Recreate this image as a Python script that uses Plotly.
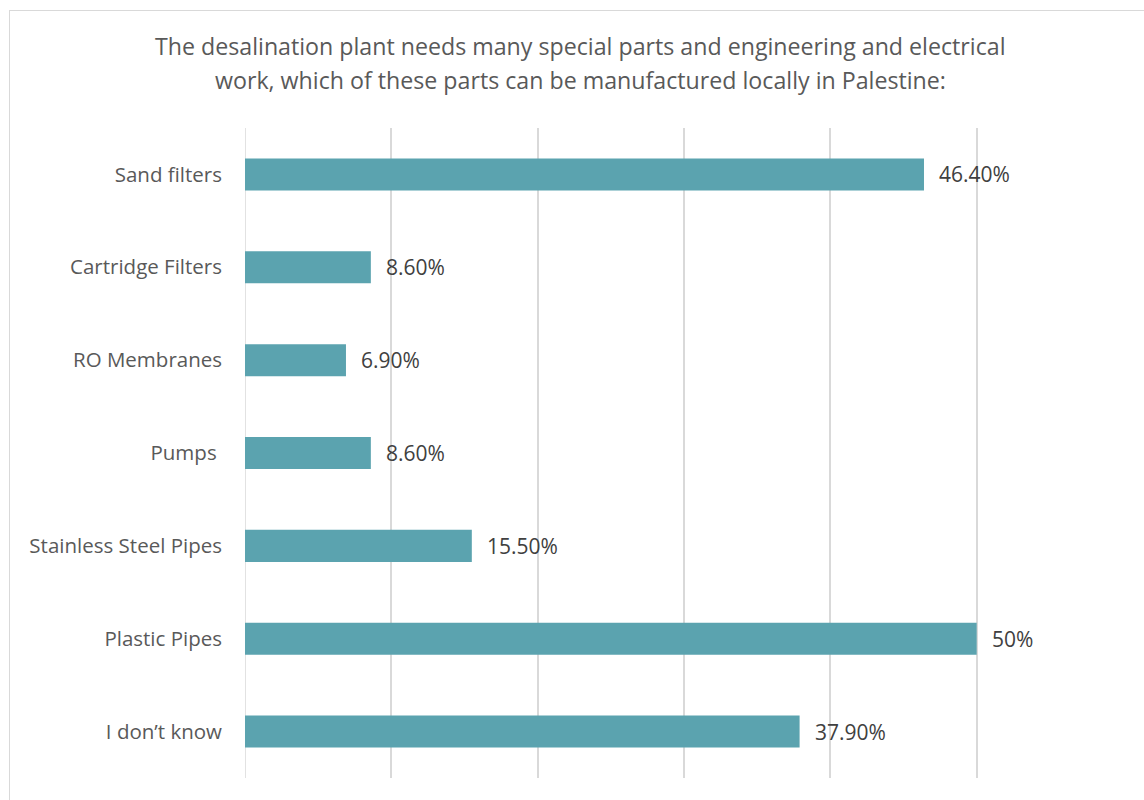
import plotly.graph_objects as go

categories = ["Sand filters", "Cartridge Filters", "RO Membranes", "Pumps\u00a0",
              "Stainless Steel Pipes", "Plastic Pipes", "I don\u2019t know"]
values = [46.4, 8.6, 6.9, 8.6, 15.5, 50, 37.9]
value_labels = ["46.40%", "8.60%", "6.90%", "8.60%", "15.50%", "50%", "37.90%"]
x_ticks = [0, 10, 20, 30, 40, 50, 60]
title_lines = ["The desalination plant needs many special parts and engineering and electrical",
               "work, which of these parts can be manufactured locally in Palestine:"]

W, H = 1144, 800
L, R, T, B = 245, 21, 128, 22
pw = W - L - R
ph = H - T - B

fig = go.Figure(go.Bar(
    x=values, y=categories, orientation="h",
    marker=dict(color="#5BA3AF", line=dict(width=0)),
    width=0.345, hoverinfo="skip",
))

for c, v, t in zip(categories, values, value_labels):
    fig.add_annotation(x=v, y=c, text=t, showarrow=False, xanchor="left",
                       xshift=13, font=dict(family="Open Sans", size=21, color="#404040"))

# title as two centred lines
for ypix, line in zip([46, 80], title_lines):
    fig.add_annotation(xref="paper", yref="paper", x=(580 - L) / pw, y=1 + (T - ypix) / ph,
                       text=line, showarrow=False, xanchor="center", yanchor="middle",
                       font=dict(family="Open Sans", size=23.2, color="#595959"))

# chart border (left and top visible)
fig.add_shape(type="line", xref="paper", yref="paper",
              x0=(9 - L) / pw, x1=(W + 5 - L) / pw,
              y0=1 + (T - 10.5) / ph, y1=1 + (T - 10.5) / ph,
              line=dict(color="#d9d9d9", width=1))
fig.add_shape(type="line", xref="paper", yref="paper",
              x0=(9.5 - L) / pw, x1=(9.5 - L) / pw,
              y0=1 + (T - 10) / ph, y1=-(B + 5) / ph,
              line=dict(color="#d9d9d9", width=1))

fig.update_layout(
    width=W, height=H,
    margin=dict(l=L, r=R, t=T, b=B),
    paper_bgcolor="white", plot_bgcolor="white",
    showlegend=False,
    xaxis=dict(range=[0, 60], tickvals=x_ticks, showticklabels=False,
               showgrid=True, gridcolor="#d9d9d9", gridwidth=1.5,
               zeroline=False, showline=False, fixedrange=True),
    yaxis=dict(categoryorder="array", categoryarray=categories, autorange="reversed",
               showgrid=False, zeroline=False, showline=False, ticks="",
               ticklabelstandoff=22,
               tickfont=dict(family="Open Sans", size=20.5, color="#595959")),
)
fig.add_shape(type="line", xref="x", yref="paper", x0=0, x1=0, y0=0, y1=1,
              line=dict(color="#d9d9d9", width=1.5), layer="below")

fig.write_html("out.html")
